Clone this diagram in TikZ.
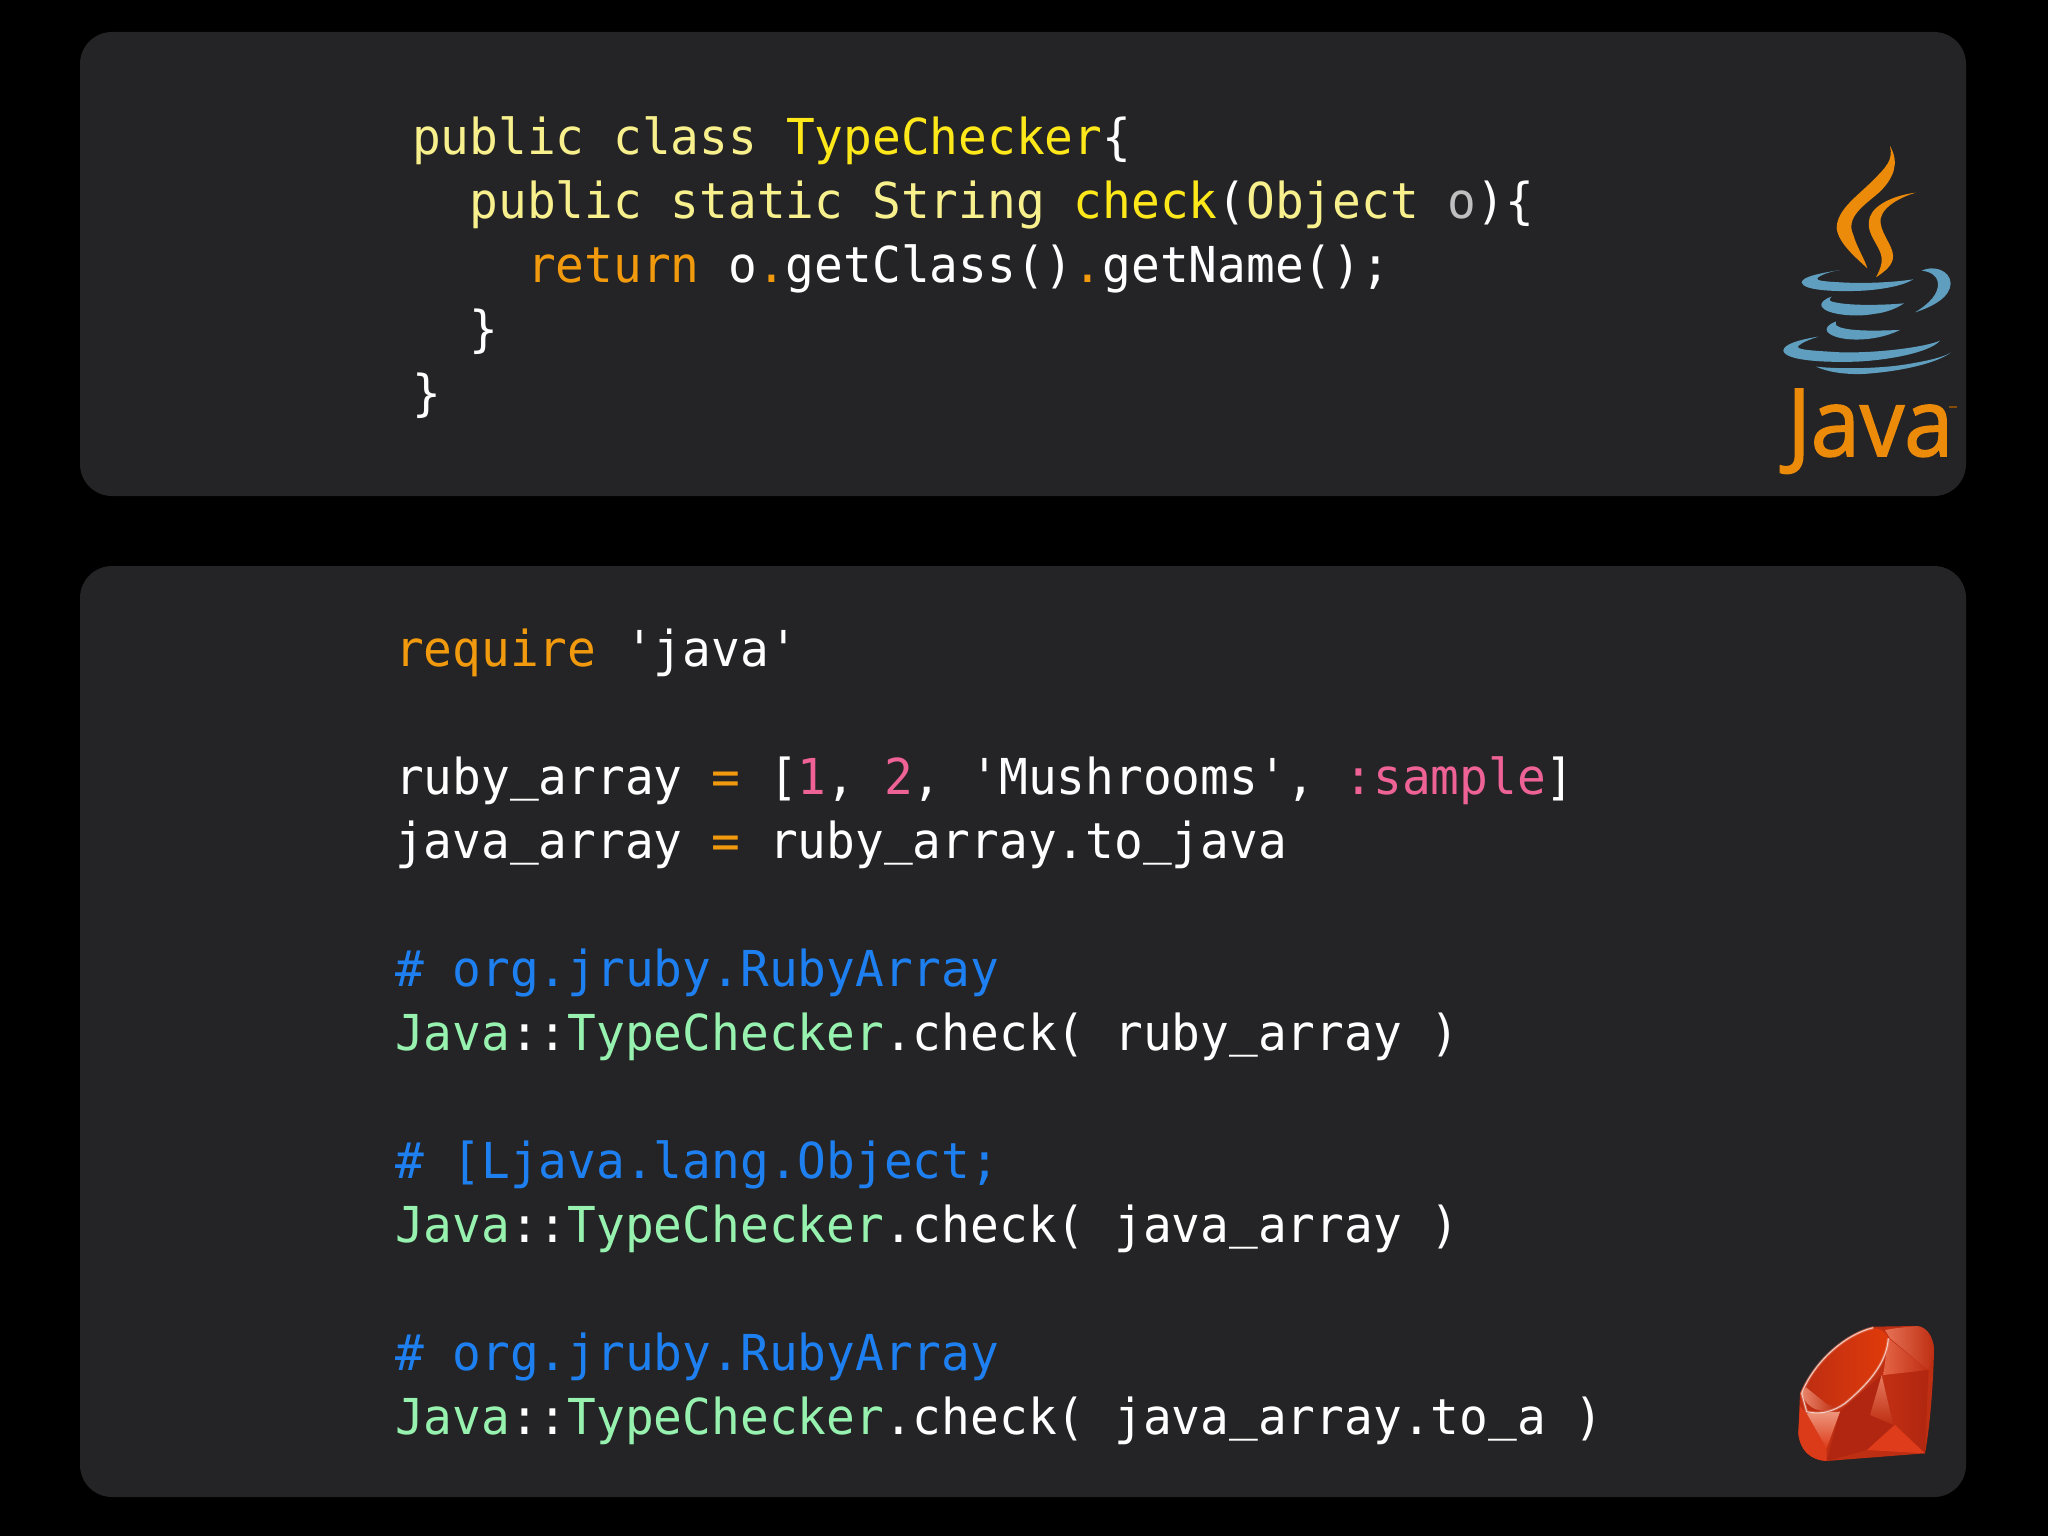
\documentclass[tikz,border=0pt]{standalone}
\usepackage{fontspec}
\setmonofont[FakeStretch=0.9655]{DejaVu Sans Mono}
\newfontfamily\logofont[FakeBold=1.6,FakeStretch=0.94]{Open Sans}
\definecolor{panelgray}{HTML}{242426}
\definecolor{kwpale}{HTML}{F8F08C}
\definecolor{clsyel}{HTML}{FFE81A}
\definecolor{kworange}{HTML}{F29A0E}
\definecolor{numpink}{HTML}{EE6296}
\definecolor{cmtblue}{HTML}{1E80F0}
\definecolor{javagreen}{HTML}{96F2AE}
\definecolor{cupblue}{HTML}{5F9EBF}
\definecolor{javaorange}{HTML}{EC8A0A}
\definecolor{rbbody}{RGB}{190,46,18}
\definecolor{rbbright}{RGB}{222,60,26}
\definecolor{rbdark}{RGB}{176,38,16}
\definecolor{rbpale}{RGB}{236,150,125}
\definecolor{rbtable}{RGB}{224,58,10}
\newcommand{\kw}[1]{\textcolor{kwpale}{#1}}
\newcommand{\cl}[1]{\textcolor{clsyel}{#1}}
\newcommand{\ok}[1]{\textcolor{kworange}{#1}}
\newcommand{\nm}[1]{\textcolor{numpink}{#1}}
\newcommand{\gn}[1]{\textcolor{javagreen}{#1}}
\newcommand{\us}{\raisebox{0.09em}{\_}}
\tikzset{
  panel/.style={fill=panelgray,draw=none,rounded corners=32pt},
  codeline/.style={anchor=base west,inner sep=0pt,outer sep=0pt,text=white,
    font=\fontsize{49.5}{64}\selectfont\ttfamily},
  cmt/.style={codeline,text=cmtblue},
  cup/.style={fill=cupblue,draw=none},
  flame/.style={fill=javaorange,draw=none}
}
\begin{document}
\begin{tikzpicture}[x=1pt,y=-1pt]
\useasboundingbox (0,0) rectangle (2048,1536);
\fill[black] (0,0) rectangle (2048,1536);
\path[panel] (80,32) rectangle (1966,496);
\path[panel] (80,566) rectangle (1966,1497);
% top code
\node[codeline] (a1) at (412,154) {\kw{public class} \cl{TypeChecker}\{};
\node[codeline] (a2) at (469.5,218) {\kw{public static String} \cl{check}(\kw{Object} \textcolor{lightgray}{o})\{};
\node[codeline] (a3) at (527,282) {\ok{return} o\ok{.}getClass()\ok{.}getName();};
\node[codeline] (a4) at (469.5,346) {\}};
\node[codeline] (a5) at (412,410) {\}};
% bottom code
\node[codeline] (b1) at (395,666) {\ok{require} 'java'};
\node[codeline] (b2) at (395,794) {ruby\us array \ok{=} [\nm{1}, \nm{2}, 'Mushrooms', \nm{:sample}]};
\node[codeline] (b3) at (395,858) {java\us array \ok{=} ruby\us array.to\us java};
\node[cmt] (b4) at (395,986) {\# org.jruby.RubyArray};
\node[codeline] (b5) at (395,1050) {\gn{Java}::\gn{TypeChecker}.check( ruby\us array )};
\node[cmt] (b6) at (395,1178) {\# [Ljava.lang.Object;};
\node[codeline] (b7) at (395,1242) {\gn{Java}::\gn{TypeChecker}.check( java\us array )};
\node[cmt] (b8) at (395,1370) {\# org.jruby.RubyArray};
\node[codeline] (b9) at (395,1434) {\gn{Java}::\gn{TypeChecker}.check( java\us array.to\us a )};
% Java logo
\begin{scope}[shift={(1740,120)},x=0.3333pt,y=-0.3333pt]
\fill[flame] (450,78) .. controls (480,130) and (460,175) .. (420,215) .. controls (375,255) and (315,290) .. (340,345) .. controls (350,380) and (375,420) .. (382,445) .. controls (350,415) and (295,370) .. (290,325) .. controls (290,270) and (350,230) .. (395,185) .. controls (440,140) and (460,120) .. (450,78) -- cycle;
\fill[flame] (527,218) .. controls (470,235) and (415,270) .. (422,310) .. controls (427,350) and (467,385) .. (458,420) .. controls (450,445) and (425,460) .. (408,472) .. controls (425,440) and (430,420) .. (420,395) .. controls (405,360) and (375,330) .. (390,290) .. controls (405,250) and (470,225) .. (527,218) -- cycle;
\fill[cup] (300,450) .. controls (240,460) and (185,470) .. (185,488) .. controls (190,512) and (290,516) .. (370,512) .. controls (430,508) and (490,497) .. (520,478) .. controls (470,486) and (380,492) .. (300,487) .. controls (260,485) and (225,482) .. (232,475) .. controls (240,465) and (270,455) .. (300,450) -- cycle;
\fill[cup] (545,452) .. controls (580,435) and (630,450) .. (632,490) .. controls (632,530) and (580,560) .. (525,577) .. controls (570,550) and (596,520) .. (594,490) .. controls (591,465) and (570,455) .. (545,452) -- cycle;
\fill[cup] (275,530) .. controls (250,538) and (240,550) .. (245,560) .. controls (260,585) and (350,592) .. (400,582) .. controls (440,578) and (470,565) .. (492,550) .. controls (440,555) and (340,558) .. (290,548) .. controls (265,544) and (265,540) .. (275,530) -- cycle;
\fill[cup] (288,605) .. controls (265,612) and (255,625) .. (262,635) .. controls (285,665) and (400,670) .. (480,630) .. controls (420,632) and (340,635) .. (300,622) .. controls (285,616) and (285,612) .. (288,605) -- cycle;
\fill[cup] (235,650) .. controls (170,660) and (130,675) .. (130,692) .. controls (135,722) and (250,728) .. (350,725) .. controls (450,720) and (570,697) .. (600,662) .. controls (560,680) and (420,700) .. (300,697) .. controls (220,692) and (165,690) .. (175,678) .. controls (185,668) and (210,658) .. (235,650) -- cycle;
\fill[cup] (632,698) .. controls (590,730) and (480,755) .. (370,762) .. controls (310,764) and (260,755) .. (228,740) .. controls (300,748) and (420,746) .. (500,733) .. controls (560,723) and (610,712) .. (632,698) -- cycle;
\fill[javaorange!55!black] (628,858) rectangle (650,864);
\end{scope}
\node[anchor=base west,inner sep=0pt,text=javaorange,font=\fontsize{94}{94}\selectfont\logofont] (jv) at (1787,456) {Java};
% Ruby logo
\begin{scope}[shift={(1770,1300)},x=0.3333pt,y=-0.3333pt]
% body
\fill[rbbody] (310,80) -- (440,78) .. controls (470,80) and (490,110) .. (492,150) .. controls (490,250) and (480,380) .. (465,460) -- (170,483) .. controls (120,480) and (90,450) .. (85,400) -- (90,280) .. controls (130,190) and (220,100) .. (310,80) -- cycle;
% right column
\shade[left color=rbbody!85!rbbright,right color=rbdark] (355,115) -- (475,210) -- (465,460) -- (370,375) -- (335,225) -- cycle;
% bottom right facet
\fill[rbbright] (290,450) -- (375,375) -- (465,460) -- cycle;
% top right facets
\shade[shading angle=-50,left color=rbbright!55!rbpale,right color=rbbody] (355,115) -- (475,210) -- (340,225) -- cycle;
\shade[left color=rbpale!60!rbbright,right color=rbbody] (345,90) -- (375,85) -- (440,78) .. controls (470,80) and (490,110) .. (492,150) -- (475,210) -- (360,115) -- cycle;
% bottom middle and left facets
\fill[rbdark] (210,335) -- (335,225) -- (370,375) -- (290,450) -- (170,483) -- cycle;
\shade[top color=rbpale!70!rbbright,bottom color=rbbody] (335,225) -- (370,375) -- (300,345) -- cycle;
\fill[rbbright!90!rbbody] (90,320) -- (110,340) -- (170,445) -- (170,483) .. controls (120,480) and (90,450) .. (85,400) -- cycle;
\shade[top color=rbpale,bottom color=rbbright] (110,340) -- (210,335) -- (170,445) -- cycle;
% table
\shade[shading angle=-35,left color=rbbody,right color=rbtable] (310,85) .. controls (330,85) and (350,95) .. (355,115) .. controls (350,180) and (310,240) .. (220,310) .. controls (180,335) and (125,345) .. (100,280) .. controls (130,190) and (220,105) .. (310,85) -- cycle;
\shade[shading angle=60,left color=rbpale!80!rbbright,right color=rbbody] (96,280) .. controls (110,330) and (160,345) .. (200,322) -- (170,312) -- (108,262) -- cycle;
% highlight
\draw[line width=3pt,rbpale,opacity=.4,line join=round] (310,83) .. controls (220,105) and (130,190) .. (95,280) -- (110,335) .. controls (150,345) and (190,335) .. (225,310) .. controls (310,240) and (350,180) .. (355,115);
\draw[line width=1pt,white,opacity=.7,line join=round] (310,83) .. controls (220,105) and (130,190) .. (95,280) -- (110,335) .. controls (150,345) and (190,335) .. (225,310) .. controls (310,240) and (350,180) .. (355,115);
\end{scope}
\end{tikzpicture}
\end{document}
